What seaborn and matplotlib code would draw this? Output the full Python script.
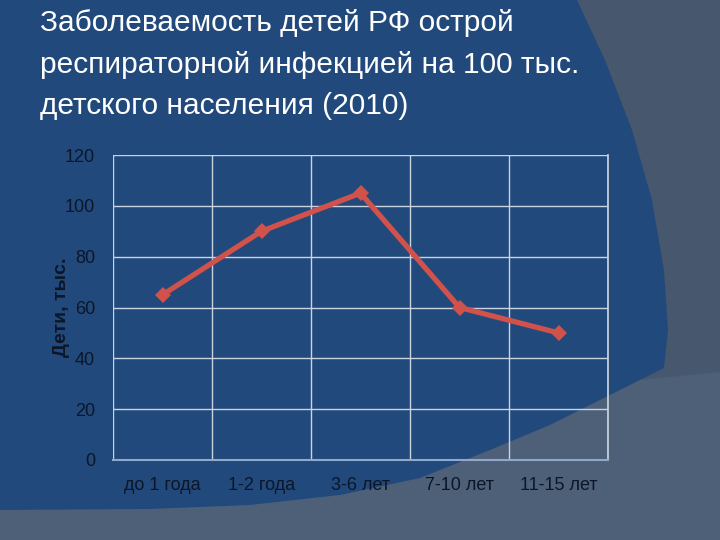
import matplotlib
matplotlib.use("Agg")
import matplotlib.pyplot as plt
import numpy as np
import pandas as pd
import seaborn as sns
from matplotlib.patches import Polygon

# data
AGE_GROUPS = ["до 1 года", "1-2 года", "3-6 лет", "7-10 лет", "11-15 лет"]
CHILDREN_K = [65, 90, 105, 60, 50]
Y_TICKS = [0, 20, 40, 60, 80, 100, 120]

TITLE = ("Заболеваемость детей РФ острой\n"
         "респираторной инфекцией на 100 тыс.\n"
         "детского населения (2010)")
Y_LABEL = "Дети, тыс."

BLUE = "#22497b"
GREY_LOW = "#4e6078"
GREY_HIGH = "#46576e"
LINE_RED = "#d0524b"
TICK_COL = "#0c1628"

sns.set_theme(style="white")
plt.rcParams["font.family"] = ["Liberation Sans", "DejaVu Sans"]

fig = plt.figure(figsize=(7.2, 5.4), dpi=100)
fig.patch.set_facecolor(GREY_LOW)

# slide background: grey corners around a big blue rounded shape
bg = fig.add_axes([0, 0, 1, 1], zorder=-10)
bg.set_xlim(0, 720)
bg.set_ylim(540, 0)
bg.axis("off")
bg.add_patch(Polygon([(560, 0), (720, 0), (720, 372), (640, 380)],
                     closed=True, color=GREY_HIGH, lw=0))
blue_outline = [(0, 0), (577, 0), (605, 60), (632, 130), (652, 200), (664, 270),
                (668, 330), (664, 368), (610, 395), (550, 425), (490, 450),
                (420, 478), (340, 495), (250, 505), (150, 509), (0, 510)]
bg.add_patch(Polygon(blue_outline, closed=True, color=BLUE, lw=0))

fig.text(40 / 720, 1 - 9 / 540, TITLE, color="white", fontsize=21.5,
         va="top", ha="left", linespacing=1.62)

df = pd.DataFrame({"age": AGE_GROUPS, "value": CHILDREN_K})

ax = fig.add_axes([113 / 720, 1 - 460 / 540, 495 / 720, 305 / 540])
ax.set_facecolor("none")
sns.lineplot(data=df, x="age", y="value", sort=False, ax=ax, color=LINE_RED,
             linewidth=3.8, marker="D", markersize=8, markeredgewidth=0)

ax.set_xlim(-0.5, len(AGE_GROUPS) - 0.5)
ax.set_ylim(0, 120)
ax.set_yticks(Y_TICKS)
ax.set_xticks(np.arange(len(AGE_GROUPS)))
ax.set_xticklabels(AGE_GROUPS)
ax.set_xticks(np.arange(len(AGE_GROUPS) + 1) - 0.5, minor=True)

ax.grid(axis="y", which="major", color="#c9d3e0", lw=1)
ax.grid(axis="x", which="minor", color="#c9d3e0", lw=1)
ax.grid(axis="x", which="major", visible=False)
for side in ["left", "top"]:
    ax.spines[side].set_visible(False)
ax.spines["right"].set_color("#c9d3e0")
ax.spines["bottom"].set_color("#8fa8cc")
ax.spines["bottom"].set_linewidth(1.5)

ax.tick_params(axis="both", which="both", length=0, labelsize=13,
               labelcolor=TICK_COL)
ax.tick_params(axis="y", pad=13)
ax.tick_params(axis="x", pad=12)
ax.set_xlabel("")
ax.set_ylabel(Y_LABEL, fontsize=14, fontweight="bold", color=TICK_COL,
              labelpad=-4)

fig.savefig("out.png", dpi=100, facecolor=fig.get_facecolor())
